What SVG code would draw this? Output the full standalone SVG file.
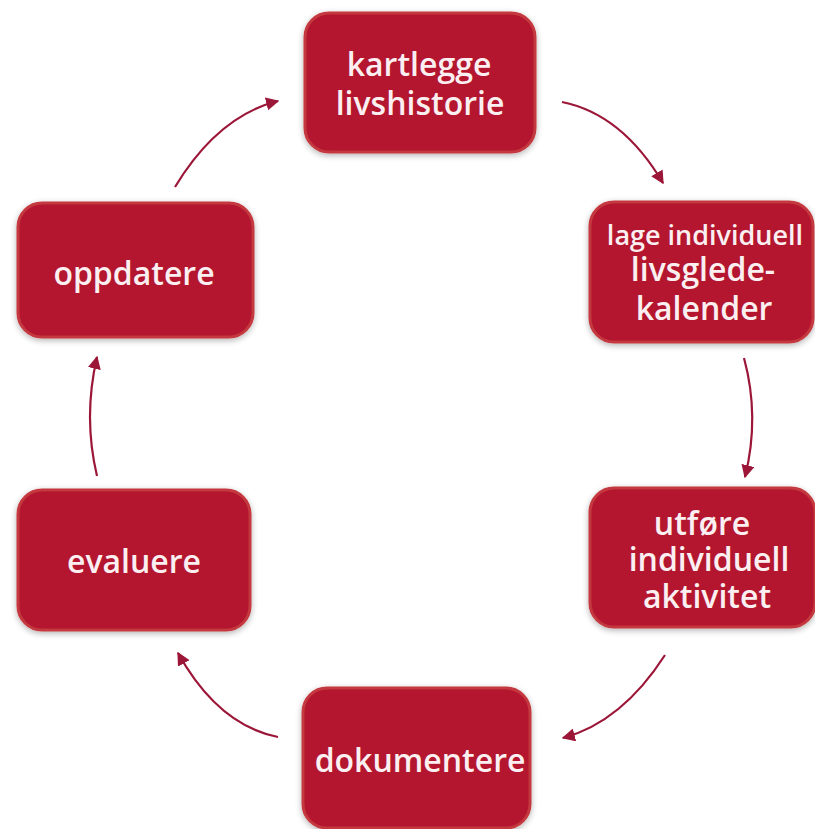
<svg xmlns="http://www.w3.org/2000/svg" width="815" height="829" viewBox="0 0 815 829">
<style>
.box{fill:#b3172e;stroke:#c4393f;stroke-width:3;filter:url(#sh)}
.t{font-family:"Open Sans","Noto Sans",sans-serif;font-weight:600;fill:#fbeff1;text-anchor:middle;font-size:32px}
.c{fill:none;stroke:#9c1638;stroke-width:2.2;marker-end:url(#ah)}
</style>
<defs>
<filter id="sh" x="-10%" y="-10%" width="120%" height="125%">
<feGaussianBlur in="SourceAlpha" stdDeviation="3"/>
<feOffset dx="0" dy="2" result="b"/>
<feComponentTransfer><feFuncA type="linear" slope="0.3"/></feComponentTransfer>
<feMerge><feMergeNode/><feMergeNode in="SourceGraphic"/></feMerge>
</filter>
<marker id="ah" viewBox="0 0 10 10" refX="9" refY="5" markerWidth="6" markerHeight="6" orient="auto" markerUnits="strokeWidth">
<path d="M0,0 L10,5 L0,10 z" fill="#9c1638"/>
</marker>
</defs>
<rect width="815" height="829" fill="#ffffff"/>
<g id="connectors">
<path class="c" d="M562,102 Q622,114 663,183"/>
<path class="c" d="M744,358 Q760,417 745,477"/>
<path class="c" d="M665,655 Q622,722 563,738"/>
<path class="c" d="M278,737 Q218,725 178,653"/>
<path class="c" d="M97,476 Q83,417 97,357"/>
<path class="c" d="M175,187 Q218,116 278,101"/>
</g>
<g id="kartlegge">
<rect class="box" x="305" y="13" width="230" height="139" rx="24"/>
<text class="t" x="419" y="76">kartlegge</text>
<text class="t" x="420" y="115">livshistorie</text>
</g>
<g id="livsgledekalender">
<rect class="box" x="590" y="202" width="223" height="140" rx="24"/>
<text class="t" x="705" y="245" style="font-size:27px">lage individuell</text>
<text class="t" x="703" y="281">livsglede-</text>
<text class="t" x="704" y="320">kalender</text>
</g>
<g id="utfore">
<rect class="box" x="590" y="488" width="225" height="139" rx="24"/>
<text class="t" x="702" y="535">utføre</text>
<text class="t" x="709" y="571">individuell</text>
<text class="t" x="707" y="608">aktivitet</text>
</g>
<g id="dokumentere">
<rect class="box" x="303" y="688" width="227" height="140" rx="24"/>
<text class="t" x="420" y="772">dokumentere</text>
</g>
<g id="evaluere">
<rect class="box" x="18" y="490" width="232" height="140" rx="24"/>
<text class="t" x="134" y="573">evaluere</text>
</g>
<g id="oppdatere">
<rect class="box" x="18" y="203" width="235" height="134" rx="24"/>
<text class="t" x="134" y="285">oppdatere</text>
</g>
</svg>
